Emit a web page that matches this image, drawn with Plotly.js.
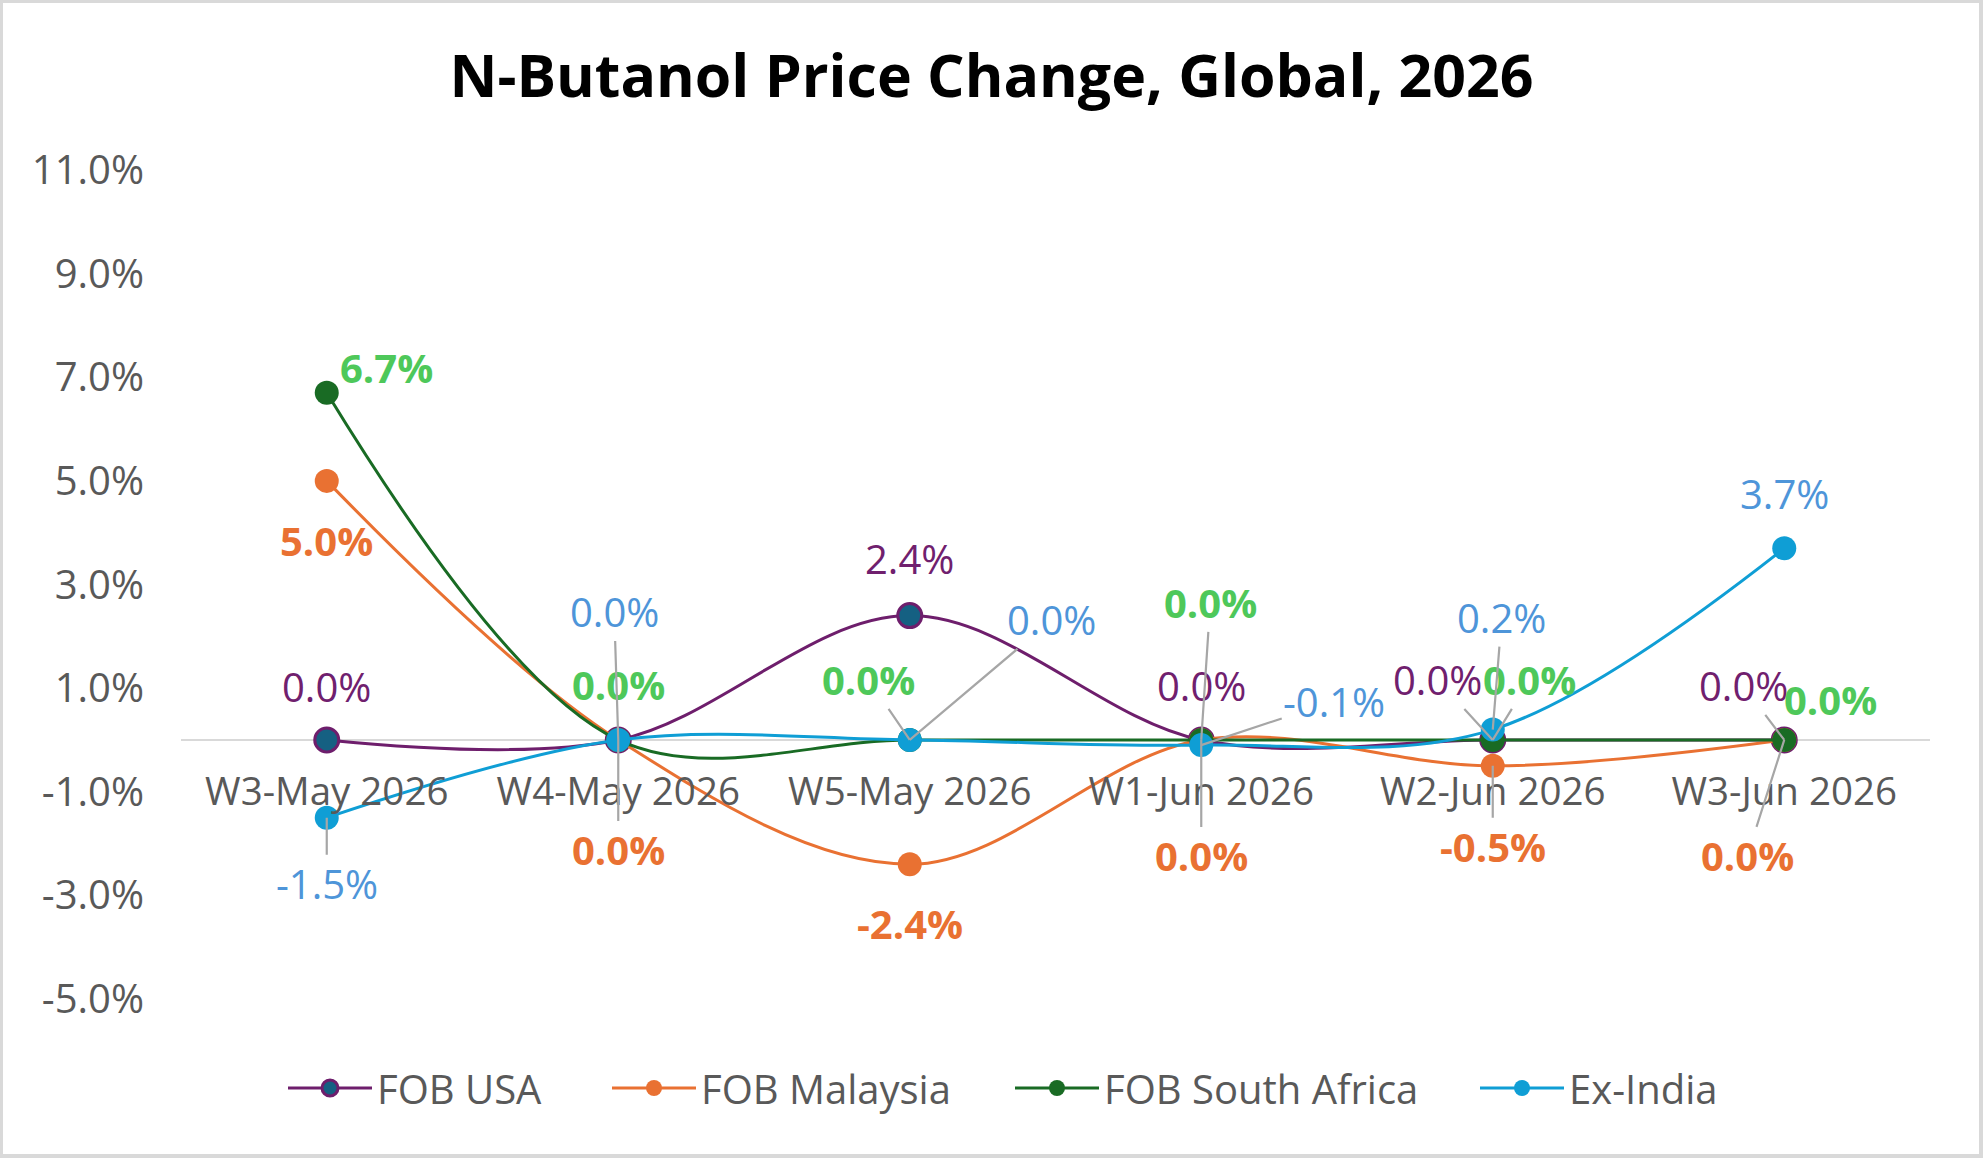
<!DOCTYPE html>
<html>
<head>
<meta charset="utf-8">
<script src="https://cdn.plot.ly/plotly-3.0.1.min.js"></script>
<style>
  html, body { margin: 0; padding: 0; background: #ffffff; }
  #wrap { position: relative; width: 1983px; height: 1158px; }
  #chart { position: absolute; left: 0; top: 0; width: 1983px; height: 1158px; }
  #frame { position: absolute; left: 0; top: 0; width: 1983px; height: 1158px;
           box-sizing: border-box; border: 3px solid #d9d9d9; border-right-width: 4px;
           border-bottom-width: 4px; pointer-events: none; }
</style>
</head>
<body>
<div id="wrap">
  <div id="chart"></div>
  <div id="frame"></div>
</div>
<script>
// Weekly price change, % per week
const weeks = ['W3-May 2026', 'W4-May 2026', 'W5-May 2026', 'W1-Jun 2026', 'W2-Jun 2026', 'W3-Jun 2026'];
const seriesNames = ['FOB USA', 'FOB Malaysia', 'FOB South Africa', 'Ex-India'];
const fobUsa = [0.0, 0.0, 2.4, 0.0, 0.0, 0.0];
const fobMalaysia = [5.0, 0.0, -2.4, 0.0, -0.5, 0.0];
const fobSouthAfrica = [6.7, 0.0, 0.0, 0.0, 0.0, 0.0];
const exIndia = [-1.5, 0.0, 0.0, -0.1, 0.2, 3.7];
const yTicks = [-5, -3, -1, 1, 3, 5, 7, 9, 11];

// Styling for each series
const styles = [
  { line: '#6E1E6C', fill: '#156082', edge: '#6E1E6C', label: '#70206E', bold: false },
  { line: '#E97132', fill: '#E97132', edge: '#E97132', label: '#E97132', bold: true },
  { line: '#196B24', fill: '#196B24', edge: '#196B24', label: '#4EC85A', bold: true },
  { line: '#0F9ED5', fill: '#0F9ED5', edge: '#0F9ED5', label: '#4E95D9', bold: false }
];

// Label placement: [dx, dy, leader line] in pixels from each point; null = no label
const labelPlacement = [
  [[0, -53, false], null, [0, -57, false], [0, -54, false], [-55, -60, true], [-41, -54, true]],
  [[0, 60, false], [0, 110, true], [0, 59, false], [0, 116, true], [0, 81, true], [-37, 116, true]],
  [[60, -25, false], [0, -55, false], [-41, -60, true], [9, -137, true], [37, -60, true], [46, -40, false]],
  [[0, 66, true], [-4, -128, true], [142, -120, true], [133, -44, true], [9, -112, true], [0, -55, false]]
];

// Left edge of each legend entry, in pixels across the page
const legendLeft = [283, 607, 1010, 1475];

const yRange = [-5, 11];
const allSeries = [fobUsa, fobMalaysia, fobSouthAfrica, exIndia];
const FONT = 'Open Sans, Liberation Sans, Arial, sans-serif';
const FS = 40;
const pct = v => v.toFixed(1) + '%';

const M = { l: 181, r: 53, t: 170, b: 159 };
const plotW = 1983 - M.l - M.r;
const plotH = 1158 - M.t - M.b;
const legendKey = i => (i === 0 ? 'legend' : 'legend' + (i + 1));

const traces = allSeries.map((vals, s) => ({
  type: 'scatter',
  mode: 'lines+markers',
  name: seriesNames[s],
  legend: legendKey(s),
  x: weeks,
  y: vals,
  line: { color: styles[s].line, width: 3, shape: 'spline', smoothing: 1 },
  marker: { size: 24, color: styles[s].fill, line: { color: styles[s].edge, width: s === 0 ? 3 : 0 } },
  hoverinfo: 'skip'
}));

const annotations = [];
allSeries.forEach((vals, s) => {
  vals.forEach((v, i) => {
    const p = labelPlacement[s][i];
    if (!p) return;
    annotations.push({
      x: weeks[i], y: v, xref: 'x', yref: 'y',
      text: styles[s].bold ? '<b>' + pct(v) + '</b>' : pct(v),
      font: { family: FONT, size: FS, color: styles[s].label },
      showarrow: true, arrowhead: 0, standoff: 0,
      arrowwidth: 2.2,
      arrowcolor: p[2] ? '#A6A6A6' : 'rgba(0,0,0,0)',
      ax: p[0], ay: p[1], axref: 'pixel', ayref: 'pixel'
    });
  });
});

const layout = {
  width: 1983, height: 1158,
  paper_bgcolor: '#ffffff', plot_bgcolor: '#ffffff',
  font: { family: FONT, color: '#595959', size: FS },
  margin: { l: M.l, r: M.r, t: M.t, b: M.b, pad: 0, autoexpand: false },
  title: {
    text: '<b>N-Butanol Price Change, Global, 2026</b>',
    font: { family: FONT, size: 59, color: '#000000' },
    x: 0.5, xref: 'container', xanchor: 'center',
    y: 1 - 76 / 1158, yref: 'container', yanchor: 'middle'
  },
  xaxis: {
    type: 'category', range: [-0.5, weeks.length - 0.5],
    anchor: 'free', position: (0 - yRange[0]) / (yRange[1] - yRange[0]),
    showgrid: false, zeroline: false, showline: false, ticks: '',
    tickangle: 0, automargin: false,
    ticklabelstandoff: 26,
    tickfont: { family: FONT, size: 38.5, color: '#595959' }
  },
  yaxis: {
    range: yRange, tickmode: 'array', tickvals: yTicks, ticktext: yTicks.map(pct),
    showgrid: false, showline: false, ticks: '', automargin: false,
    zeroline: true, zerolinecolor: '#d9d9d9', zerolinewidth: 2.5,
    ticklabelstandoff: 36,
    tickfont: { family: FONT, size: FS, color: '#595959' }
  },
  showlegend: true,
  annotations: annotations
};

legendLeft.forEach((px, i) => {
  layout[legendKey(i)] = {
    orientation: 'h', xref: 'paper', x: (px - M.l) / plotW, xanchor: 'left',
    yref: 'paper', y: (M.t + plotH - 1088) / plotH, yanchor: 'middle',
    font: { family: FONT, size: FS, color: '#595959' },
    itemwidth: 84, bgcolor: 'rgba(0,0,0,0)', borderwidth: 0
  };
});

Plotly.newPlot('chart', traces, layout, { displayModeBar: false, staticPlot: true });
</script>
</body>
</html>
